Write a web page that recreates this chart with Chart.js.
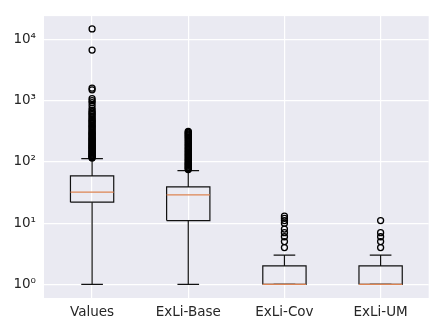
<!DOCTYPE html>
<html>
<head>
<meta charset="utf-8">
<script src="https://cdn.jsdelivr.net/npm/chart.js@4.4.1/dist/chart.umd.min.js"></script>
<style>
  html, body { margin: 0; padding: 0; background: #fff; overflow: hidden; width: 429px; height: 324px; }
  canvas { display: block; }
</style>
</head>
<body>
<canvas id="box" width="434" height="324"></canvas>
<script>
const categories = ['Values', 'ExLi-Base', 'ExLi-Cov', 'ExLi-UM'];
const q1 = [22, 11, 1, 1];
const medians = [32, 29, 1, 1];
const q3 = [59, 39, 2, 2];
const whiskerLow = [1, 1, 1, 1];
const whiskerHigh = [113, 72, 3, 3];

const outliersValues = [14800, 6700, 1600, 1500, 1080, 1000, 930, 840, 750, 690, 650, 620, 590, 560, 530, 500, 480,
  460, 440, 420, 400, 385, 370, 355, 340, 325, 310, 300, 290, 280, 270, 260, 250, 242, 235, 228, 220, 212, 205, 198,
  192, 186, 180, 175, 170, 165, 160, 155, 150, 146, 142, 138, 134, 130, 127, 124, 121, 118, 116];
const outliersBase = [316, 305, 295, 285, 275, 265, 255, 245, 235, 225, 215, 205, 196, 188, 180, 172, 165, 158, 151,
  145, 139, 133, 128, 123, 118, 113, 109, 105, 101, 97, 94, 91, 88, 85, 82, 80, 77, 75];
const outliersCov = [4, 5, 6, 7, 8, 10, 11, 12, 13];
const outliersUM = [4, 5, 6, 7, 11];
const outliers = [outliersValues, outliersBase, outliersCov, outliersUM];

const yTicks = [1, 10, 100, 1000, 10000];
const yTickLabels = ['10⁰', '10¹', '10²', '10³', '10⁴'];

const HALF = 0.225;
const CAP = 0.1125;
const LINE = '#111';
const MEDIAN = '#dd8452';
const TEXT = '#262626';
const FONT = { family: 'DejaVu Sans', size: 13.5 };

const lineSet = (data, color, order) => ({
  type: 'scatter', data, showLine: true, spanGaps: false, borderColor: color, borderWidth: 1.2,
  pointRadius: 0, fill: false, order,
});

const datasets = [];
categories.forEach((name, i) => {
  const x = i + 1;
  datasets.push(lineSet([
    { x: x - HALF, y: q1[i] }, { x: x + HALF, y: q1[i] }, { x: x + HALF, y: q3[i] },
    { x: x - HALF, y: q3[i] }, { x: x - HALF, y: q1[i] },
  ], LINE, 2));
  datasets.push(lineSet([
    { x, y: q3[i] }, { x, y: whiskerHigh[i] }, { x, y: null },
    { x: x - CAP, y: whiskerHigh[i] }, { x: x + CAP, y: whiskerHigh[i] }, { x, y: null },
    { x, y: q1[i] }, { x, y: whiskerLow[i] }, { x, y: null },
    { x: x - CAP, y: whiskerLow[i] }, { x: x + CAP, y: whiskerLow[i] },
  ], LINE, 2));
  datasets.push(lineSet([{ x: x - HALF, y: medians[i] }, { x: x + HALF, y: medians[i] }], MEDIAN, 0));
  datasets.push({
    type: 'scatter', data: outliers[i].map((v) => ({ x, y: v })), pointRadius: 3, pointStyle: 'circle',
    borderColor: '#000', borderWidth: 1.3, backgroundColor: 'rgba(0,0,0,0)', showLine: false, order: 1,
  });
});

const plotBg = {
  id: 'plotBg',
  beforeDraw(chart) {
    const { ctx, chartArea: a } = chart;
    ctx.save();
    ctx.fillStyle = '#eaeaf2';
    ctx.fillRect(a.left, a.top, a.right - a.left, a.bottom - a.top);
    ctx.restore();
  },
};

new Chart(document.getElementById('box'), {
  type: 'scatter',
  data: { datasets },
  plugins: [plotBg],
  options: {
    responsive: false,
    animation: false,
    devicePixelRatio: 1,
    layout: { padding: { top: 9, right: 1, left: 0, bottom: 0 } },
    plugins: { legend: { display: false }, tooltip: { enabled: false } },
    scales: {
      x: {
        type: 'linear', min: 0.5, max: 4.5,
        afterBuildTicks: (s) => { s.ticks = categories.map((_, i) => ({ value: i + 1 })); },
        afterFit: (s) => { s.height = 26; },
        ticks: { color: TEXT, font: FONT, padding: 6, autoSkip: false, maxRotation: 0, callback: (v, i) => categories[i] },
        grid: { color: '#ffffff', lineWidth: 1.2, drawTicks: false },
        border: { display: false },
      },
      y: {
        type: 'logarithmic', min: 0.62, max: 24000,
        afterBuildTicks: (s) => { s.ticks = yTicks.map((v) => ({ value: v })); },
        afterFit: (s) => { s.width = 44; },
        ticks: { color: TEXT, font: FONT, padding: 8, autoSkip: false, callback: (v, i) => yTickLabels[i] },
        grid: { color: '#ffffff', lineWidth: 1.2, drawTicks: false },
        border: { display: false },
      },
    },
  },
});
</script>
</body>
</html>
